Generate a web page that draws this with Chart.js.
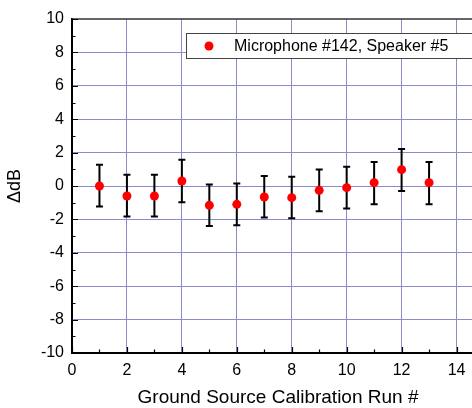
<!DOCTYPE html>
<html>
<head>
<meta charset="utf-8">
<script src="https://cdn.jsdelivr.net/npm/chart.js@4.4.1/dist/chart.umd.min.js"></script>
<style>
    html, body { margin: 0; padding: 0; background: #fff; overflow: hidden; }
    #wrap { width: 472px; height: 408px; overflow: hidden; }
    #wrap div { width: 500px; height: 408px; position: relative; }
</style>
</head>
<body>
<div id="wrap"><div><canvas id="myChart"></canvas></div></div>
<script>
// Run numbers and measured level differences
const runs = [1, 2, 3, 4, 5, 6, 7, 8, 9, 10, 11, 12, 13];
const deltaDb = [0.0, -0.6, -0.6, 0.3, -1.16, -1.1, -0.66, -0.7, -0.26, -0.1, 0.2, 0.98, 0.2];
const errUp = [1.27, 1.27, 1.27, 1.27, 1.25, 1.25, 1.26, 1.26, 1.25, 1.26, 1.24, 1.24, 1.24];
const errDown = [1.23, 1.22, 1.22, 1.27, 1.24, 1.25, 1.22, 1.23, 1.25, 1.24, 1.3, 1.28, 1.3];
const xTicks = [0, 1, 2, 3, 4, 5, 6, 7, 8, 9, 10, 11, 12, 13, 14, 15];
const yTicks = [-10, -9, -8, -7, -6, -5, -4, -3, -2, -1, 0, 1, 2, 3, 4, 5, 6, 7, 8, 9, 10];
const legendLabel = 'Microphone #142, Speaker #5';

const gridColor = '#8c8cc8';
const fontFam = '"Liberation Sans", Arial, sans-serif';

const points = runs.map((r, i) => ({ x: r, y: deltaDb[i] }));

// error bars + inward ticks + top frame + legend box
const extras = {
    id: 'extras',
    beforeDatasetsDraw: (chart) => {
        const {ctx} = chart;
        const xs = chart.scales.x, ys = chart.scales.y;
        ctx.save();
        ctx.strokeStyle = '#000';
        ctx.lineWidth = 2;
        runs.forEach((r, i) => {
            const px = xs.getPixelForValue(r);
            const top = ys.getPixelForValue(deltaDb[i] + errUp[i]);
            const bot = ys.getPixelForValue(deltaDb[i] - errDown[i]);
            ctx.beginPath();
            ctx.moveTo(px, top); ctx.lineTo(px, bot);
            ctx.moveTo(px - 3.5, top); ctx.lineTo(px + 3.5, top);
            ctx.moveTo(px - 3.5, bot); ctx.lineTo(px + 3.5, bot);
            ctx.stroke();
        });
        ctx.restore();
    },
    afterDraw: (chart) => {
        const {ctx, chartArea} = chart;
        const xs = chart.scales.x, ys = chart.scales.y;
        ctx.save();
        // top frame
        ctx.strokeStyle = '#333';
        ctx.lineWidth = 1.5;
        ctx.beginPath();
        ctx.moveTo(chartArea.left, chartArea.top);
        ctx.lineTo(chartArea.right, chartArea.top);
        ctx.stroke();
        // ticks pointing inward
        ctx.strokeStyle = '#000';
        ctx.lineWidth = 1.2;
        ctx.beginPath();
        xTicks.forEach(v => {
            const px = Math.round(xs.getPixelForValue(v)) + 0.5;
            const len = v % 2 === 0 ? 6 : 3.5;
            ctx.moveTo(px, chartArea.bottom);
            ctx.lineTo(px, chartArea.bottom - len);
        });
        yTicks.forEach(v => {
            const py = Math.round(ys.getPixelForValue(v)) + 0.5;
            const len = v % 2 === 0 ? 6 : 3.5;
            ctx.moveTo(chartArea.left, py);
            ctx.lineTo(chartArea.left + len, py);
        });
        ctx.stroke();
        // legend
        ctx.fillStyle = '#fff';
        ctx.fillRect(186.5, 33.5, 320, 25);
        ctx.strokeStyle = '#444';
        ctx.lineWidth = 1;
        ctx.strokeRect(186.5, 33.5, 320, 25);
        ctx.fillStyle = '#ff0000';
        ctx.beginPath();
        ctx.arc(209, 46, 4.5, 0, Math.PI * 2);
        ctx.fill();
        ctx.fillStyle = '#000';
        ctx.font = '16px ' + fontFam;
        ctx.textBaseline = 'middle';
        ctx.fillText(legendLabel, 234, 46.5);
        ctx.restore();
    }
};

var ctx = document.getElementById('myChart').getContext('2d');
var myChart = new Chart(ctx, {
    type: 'scatter',
    data: {
        datasets: [{
            label: legendLabel,
            data: points,
            pointRadius: 4.5,
            pointHoverRadius: 4.5,
            backgroundColor: '#ff0000',
            borderColor: '#ff0000',
            borderWidth: 0
        }]
    },
    options: {
        responsive: true,
        maintainAspectRatio: false,
        animation: false,
        layout: { padding: { top: 19, left: 0, right: 16, bottom: 0 } },
        plugins: {
            legend: { display: false },
            tooltip: { enabled: false }
        },
        scales: {
            x: {
                min: 0,
                max: 15,
                afterBuildTicks: (scale) => { scale.ticks = xTicks.map(v => ({ value: v })); },
                afterFit: (scale) => { scale.height = 55; },
                border: { color: '#000', width: 2 },
                grid: {
                    drawTicks: false,
                    color: (c) => (c.tick && c.tick.value % 2 === 0 && c.tick.value !== 0) ? gridColor : 'rgba(0,0,0,0)'
                },
                ticks: {
                    padding: 8,
                    color: '#000',
                    font: { family: fontFam, size: 16 },
                    callback: (v) => v % 2 === 0 ? v : ''
                },
                title: {
                    display: true,
                    text: 'Ground Source Calibration Run #',
                    color: '#000',
                    font: { family: fontFam, size: 19 },
                    padding: { top: 10, bottom: -1 }
                }
            },
            y: {
                min: -10,
                max: 10,
                afterBuildTicks: (scale) => { scale.ticks = yTicks.map(v => ({ value: v })); },
                afterFit: (scale) => { scale.width = 72; },
                border: { color: '#000', width: 2 },
                grid: {
                    drawTicks: false,
                    color: (c) => (c.tick && c.tick.value % 2 === 0 && Math.abs(c.tick.value) !== 10) ? gridColor : 'rgba(0,0,0,0)'
                },
                ticks: {
                    padding: 8,
                    color: '#000',
                    font: { family: fontFam, size: 16 },
                    callback: (v) => v % 2 === 0 ? v : ''
                },
                title: {
                    display: true,
                    text: 'ΔdB',
                    color: '#000',
                    font: { family: fontFam, size: 18 },
                    padding: { bottom: 2 }
                }
            }
        }
    },
    plugins: [extras]
});
</script>
</body>
</html>
